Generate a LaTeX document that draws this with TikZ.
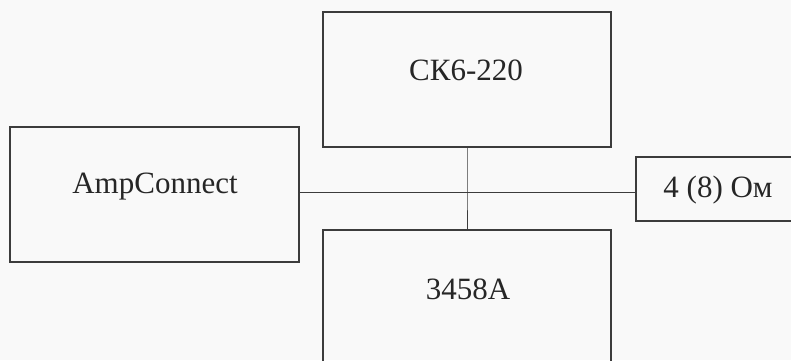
\documentclass[tikz,border=0pt]{standalone}
\usepackage{fontspec}
\setmainfont{Liberation Serif}
\usepackage{xcolor}
\usetikzlibrary{positioning, calc}
\definecolor{paper}{RGB}{249,249,249}
\definecolor{ink}{RGB}{60,60,60}

\begin{document}
\begin{tikzpicture}[x=1pt, y=-1pt,
    unit/.style={rectangle, draw=ink, line width=1.2pt, fill=none, inner sep=0pt},
    unitlabel/.style={font=\fontsize{31}{36}\selectfont, text=black!85, inner sep=0pt},
    wire/.style={draw=ink, line width=1pt}
]
% page
\fill[paper] (0,0) rectangle (791,360);
\useasboundingbox (0,0) rectangle (791,360);

\node[unit, minimum width=289pt, minimum height=135pt] (amp) at (154.5,194.5) {};
\node[unit, minimum width=288pt, minimum height=135pt] (ck) at (467,79.5) {};
\node[unit, minimum width=288pt, minimum height=170pt] (dmm) at (467,315) {};
\node[unit, minimum width=164pt, minimum height=64pt] (load) at (718,189) {};

\node[unitlabel] (amplabel) at (155,187) {AmpConnect};
\node[unitlabel] (cklabel) at (466,70) {СК6-220};
\node[unitlabel] (dmmlabel) at (468,289) {3458A};
\node[unitlabel] (loadlabel) at (718,190) {4 (8) Ом};

\coordinate (node1) at (ck.south |- 0,192);
\draw[wire] (amp.east |- node1) -- (load.west |- node1);
\draw[wire] (ck.south) -- (node1) -- (dmm.north);
\end{tikzpicture}
\end{document}
